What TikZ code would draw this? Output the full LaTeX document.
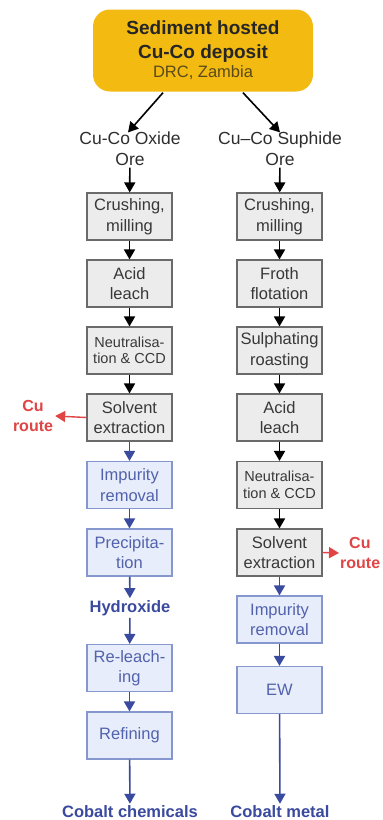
\documentclass[tikz,border=0pt]{standalone}
\usepackage{fontspec}
\setmainfont{Liberation Sans}
\usetikzlibrary{arrows.meta,calc}
\definecolor{ybox}{HTML}{F3BA12}
\definecolor{ytext}{HTML}{5A4A1A}
\definecolor{gfill}{HTML}{ECECEC}
\definecolor{gborder}{HTML}{6A6A6A}
\definecolor{gtext}{HTML}{383838}
\definecolor{bfill}{HTML}{E7EDFA}
\definecolor{bborder}{HTML}{8696CE}
\definecolor{btext}{HTML}{5262AC}
\definecolor{bdark}{HTML}{3A4A9E}
\definecolor{cured}{HTML}{E04444}
\begin{document}
\begin{tikzpicture}[x=1pt,y=-1pt,
  gbox/.style={draw=gborder, fill=gfill, line width=1.1pt, minimum width=85pt, minimum height=47pt, inner sep=1pt, align=center, text=gtext, font=\fontsize{16.5}{20.5}\selectfont},
  bbox/.style={draw=bborder, fill=bfill, line width=1.1pt, minimum width=85pt, minimum height=47pt, inner sep=1pt, align=center, text=btext, font=\fontsize{16.5}{20.5}\selectfont},
  small/.style={font=\fontsize{14.5}{16.5}\selectfont},
  arr/.style={line width=1.6pt, -{Triangle[length=10pt,width=11pt]}},
  barr/.style={arr, draw=bdark, fill=bdark},
  rarr/.style={arr, draw=cured, fill=cured, line width=1.4pt},
  ore/.style={align=center, text=black!82, font=\fontsize{17.5}{21}\selectfont, inner sep=2pt},
  prod/.style={text=bdark, font=\fontsize{16.5}{20}\selectfont\bfseries, inner sep=2pt},
  culbl/.style={text=cured, font=\fontsize{16}{20}\selectfont\bfseries, inner sep=2pt}
]
\useasboundingbox (0,0) rectangle (383,820);
\fill[white] (0,0) rectangle (383,820);

% deposit
\node[fill=ybox, rounded corners=17pt, minimum width=220pt, minimum height=82pt, align=center, inner sep=0pt,
  font=\fontsize{19}{23.5}\selectfont] (dep) at (203,50.5)
  {\textbf{\color{black!85}Sediment hosted}\\\textbf{\color{black!85}Cu-Co deposit}\\[-4pt]{\color{ytext}\fontsize{16.5}{20}\selectfont DRC, Zambia}};

\node[ore] (ox) at (130,148.5) {Cu-Co Oxide\\Ore};
\node[ore] (sx) at (280,148.5) {Cu–Co Suphide\\Ore};

\draw[arr] ($(dep.south)+(-40,1)$) -- ($(ox.north)+(-2,3)$);
\draw[arr] ($(dep.south)+(40,1)$) -- ($(sx.north)+(0,3)$);

% left column
\node[gbox] (l1) at (129.5,216.5) {Crushing,\\milling};
\node[gbox] (l2) at (129.5,283.5) {Acid\\leach};
\node[gbox, small] (l3) at (129.5,350.5) {Neutralisa-\\tion \& CCD};
\node[gbox] (l4) at (129.5,417.5) {Solvent\\extraction};
\node[bbox] (l5) at (129.5,485) {Impurity\\removal};
\node[bbox] (l6) at (129.5,552.5) {Precipita-\\tion};
\node[prod] (hyd) at (130,608) {Hydroxide};
\node[bbox] (l7) at (129.5,668) {Re-leach-\\ing};
\node[bbox] (l8) at (129.5,735.5) {Refining};
\node[prod] (cc) at (130,812) {Cobalt chemicals};

% right column
\node[gbox] (r1) at (279.5,216.5) {Crushing,\\milling};
\node[gbox] (r2) at (279.5,283.5) {Froth\\flotation};
\node[gbox] (r3) at (279.5,350.5) {Sulphating\\roasting};
\node[gbox] (r4) at (279.5,417.5) {Acid\\leach};
\node[gbox, small] (r5) at (279.5,485) {Neutralisa-\\tion \& CCD};
\node[gbox] (r6) at (279.5,552.5) {Solvent\\extraction};
\node[bbox] (r7) at (279.5,619.5) {Impurity\\removal};
\node[bbox] (r8) at (279.5,690) {EW};
\node[prod] (cm) at (280,812) {Cobalt metal};

% Cu routes
\node[culbl, align=center] (cul) at (33,416) {Cu\\route};
\node[culbl, align=left, anchor=west, inner sep=1pt] (cur) at (339,553) {\hspace{9pt}Cu\\route};

% connectors
\draw[arr] (ox) -- (l1);
\draw[arr] (l1) -- (l2);
\draw[arr] (l2) -- (l3);
\draw[arr] (l3) -- (l4);
\draw[barr] (l4) -- (l5);
\draw[barr] (l5) -- (l6);
\draw[barr] (l6) -- (hyd);
\draw[barr] (hyd) -- (l7);
\draw[barr] (l7) -- (l8);
\draw[barr] (l8) -- (cc);

\draw[arr] (sx) -- (r1);
\draw[arr] (r1) -- (r2);
\draw[arr] (r2) -- (r3);
\draw[arr] (r3) -- (r4);
\draw[arr] (r4) -- (r5);
\draw[arr] (r5) -- (r6);
\draw[barr] (r6) -- (r7);
\draw[barr] (r7) -- (r8);
\draw[barr] (r8) -- (cm);

\draw[rarr] (l4.west) -- (cul.east);
\draw[rarr] (r6.east) -- (cur.west);
\end{tikzpicture}
\end{document}
